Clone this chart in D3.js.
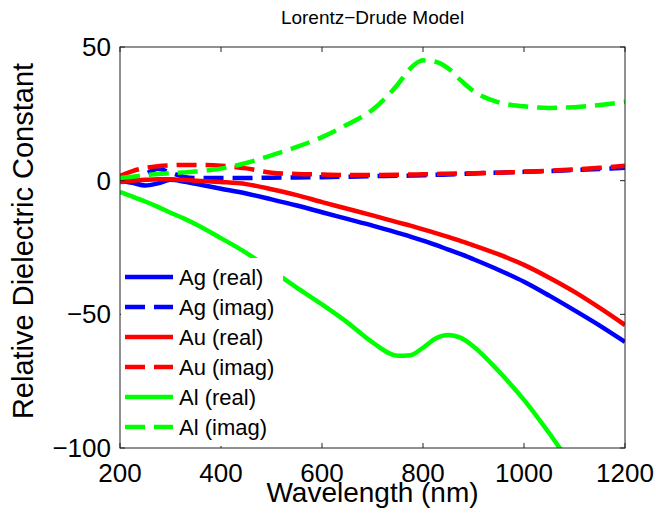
<!DOCTYPE html>
<html>
<head>
<meta charset="utf-8">
<script src="https://cdn.jsdelivr.net/npm/d3@7"></script>
<style>
  body { margin: 0; background: #fff; }
  svg { font-family: "Liberation Sans", Arial, sans-serif; }
  .frame { fill: none; stroke: #222; stroke-width: 1; }
  .tick-mark { stroke: #222; stroke-width: 1; }
</style>
</head>
<body>
<svg id="chart" width="656" height="518"></svg>
<script>
// wavelength grid (nm)
var wavelength = [200, 225, 250, 275, 300, 325, 350, 400, 450, 500, 550, 600, 650, 700,
                  750, 775, 800, 825, 850, 875, 900, 950, 1000, 1050, 1100, 1150, 1200];

// series
var agReal = [0, -0.8, -1.8, -1.0, 0.3, -0.3, -1.2, -3.0, -4.8, -7.0, -9.3, -11.8, -14.3, -16.8,
              -19.5, -20.9, -22.4, -24.0, -25.8, -27.5, -29.4, -33.4, -37.8, -43.0, -48.5, -54.2, -60.3];
var agImag = [0, 1, 2.5, 4.5, 3, 1.5, 1.0, 1.0, 1.0, 1.1, 1.2, 1.3, 1.5, 1.7,
              1.8, 1.9, 2.0, 2.2, 2.3, 2.5, 2.7, 3.0, 3.3, 3.6, 4.0, 4.4, 4.8];
var auReal = [-0.5, 0, 0.3, 0.5, 0.5, 0.3, 0, -0.5, -1.3, -3.2, -5.4, -8.0, -10.5, -13.0,
              -15.6, -16.8, -18.2, -19.6, -21.0, -22.6, -24.2, -27.6, -31.5, -36.3, -41.6, -47.6, -54];
var auImag = [1.8, 3.6, 4.8, 5.4, 5.7, 5.9, 5.9, 5.6, 4.6, 3.0, 2.5, 2.3, 2.1, 2.1,
              2.2, 2.3, 2.4, 2.5, 2.6, 2.7, 2.8, 3.0, 3.3, 3.7, 4.2, 4.8, 5.6];
var alReal = [-4.2, -6.0, -7.8, -9.8, -12.0, -14.0, -16.3, -21.5, -27.0, -33.5, -40.0, -46.3, -53.0, -60.5,
              -65.5, -65.3, -62.5, -59.0, -57.7, -58.8, -62.0, -71.3, -82.0, -94.5, -108, -121, -135];
var alImag = [1.0, 1.5, 2.0, 2.5, 2.8, 3.1, 3.4, 4.5, 6.6, 9.5, 12.6, 16.3, 21.0, 26.5,
              36.0, 42.0, 45.0, 44.5, 42.0, 37.5, 33.5, 29.3, 27.8, 27.2, 27.5, 28.3, 29.5];

var seriesNames = ["Ag (real)", "Ag (imag)", "Au (real)", "Au (imag)", "Al (real)", "Al (imag)"];
var seriesValues = [agReal, agImag, auReal, auImag, alReal, alImag];
var seriesColors = ["#0000ff", "#0000ff", "#ff0000", "#ff0000", "#00ff00", "#00ff00"];
var seriesDashed = [false, true, false, true, false, true];

var xTicks = [200, 400, 600, 800, 1000, 1200];
var yTicks = [-100, -50, 0, 50];

// plot box (note: "top" would clash with window.top)
var boxLeft = 120, boxRight = 625, boxTop = 47, boxBottom = 448;

var svg = d3.select("#chart");

var x = d3.scaleLinear().domain([200, 1200]).range([boxLeft, boxRight]);
var y = d3.scaleLinear().domain([-100, 50]).range([boxBottom, boxTop]);

svg.append("clipPath").attr("id", "plot-clip")
    .append("rect")
    .attr("x", boxLeft).attr("y", boxTop)
    .attr("width", boxRight - boxLeft).attr("height", boxBottom - boxTop);

// curves
var line = d3.line()
    .x(function(d) { return x(d[0]); })
    .y(function(d) { return y(d[1]); })
    .curve(d3.curveMonotoneX);

var curves = svg.append("g").attr("clip-path", "url(#plot-clip)");
seriesValues.forEach(function(vals, i) {
    curves.append("path")
        .datum(d3.zip(wavelength, vals))
        .attr("d", line)
        .attr("fill", "none")
        .attr("stroke", seriesColors[i])
        .attr("stroke-width", 4.5)
        .attr("stroke-dasharray", seriesDashed[i] ? "20,9" : null);
});

// frame + inward ticks on all four sides
svg.append("rect").attr("class", "frame")
    .attr("x", boxLeft).attr("y", boxTop)
    .attr("width", boxRight - boxLeft).attr("height", boxBottom - boxTop);

var ticks = svg.append("g");
xTicks.forEach(function(t) {
    ticks.append("line").attr("class", "tick-mark")
        .attr("x1", x(t)).attr("x2", x(t)).attr("y1", boxBottom).attr("y2", boxBottom - 5);
    ticks.append("line").attr("class", "tick-mark")
        .attr("x1", x(t)).attr("x2", x(t)).attr("y1", boxTop).attr("y2", boxTop + 5);
});
yTicks.forEach(function(t) {
    ticks.append("line").attr("class", "tick-mark")
        .attr("x1", boxLeft).attr("x2", boxLeft + 5).attr("y1", y(t)).attr("y2", y(t));
    ticks.append("line").attr("class", "tick-mark")
        .attr("x1", boxRight).attr("x2", boxRight - 5).attr("y1", y(t)).attr("y2", y(t));
});

// tick labels
svg.append("g").selectAll("text")
    .data(xTicks).enter().append("text")
    .attr("x", function(d) { return x(d); })
    .attr("y", 482)
    .attr("text-anchor", "middle")
    .attr("font-size", 26)
    .text(function(d) { return d; });

svg.append("g").selectAll("text")
    .data(yTicks).enter().append("text")
    .attr("x", boxLeft - 9)
    .attr("y", function(d) { return y(d) + 9; })
    .attr("text-anchor", "end")
    .attr("font-size", 26)
    .text(function(d) { return d < 0 ? "\u2212" + Math.abs(d) : d; });

// axis labels and title
svg.append("text")
    .attr("x", (boxLeft + boxRight) / 2).attr("y", 502)
    .attr("text-anchor", "middle").attr("font-size", 28)
    .text("Wavelength (nm)");

svg.append("text")
    .attr("transform", "translate(33,241) rotate(-90)")
    .attr("text-anchor", "middle").attr("font-size", 29)
    .text("Relative Dielectric Constant");

svg.append("text")
    .attr("x", (boxLeft + boxRight) / 2).attr("y", 24)
    .attr("text-anchor", "middle").attr("font-size", 19)
    .text("Lorentz\u2212Drude Model");

// legend, white box without border
var legend = svg.append("g");
legend.append("rect")
    .attr("x", boxLeft + 1).attr("y", 258)
    .attr("width", 162).attr("height", 188)
    .attr("fill", "#fff");

seriesNames.forEach(function(name, i) {
    var ly = 277 + i * 30;
    legend.append("line")
        .attr("x1", 125).attr("x2", 173)
        .attr("y1", ly).attr("y2", ly)
        .attr("stroke", seriesColors[i])
        .attr("stroke-width", 4.5)
        .attr("stroke-dasharray", seriesDashed[i] ? "20,9" : null);
    legend.append("text")
        .attr("x", 179).attr("y", ly + 8)
        .attr("font-size", 22)
        .text(name);
});
</script>
</body>
</html>
